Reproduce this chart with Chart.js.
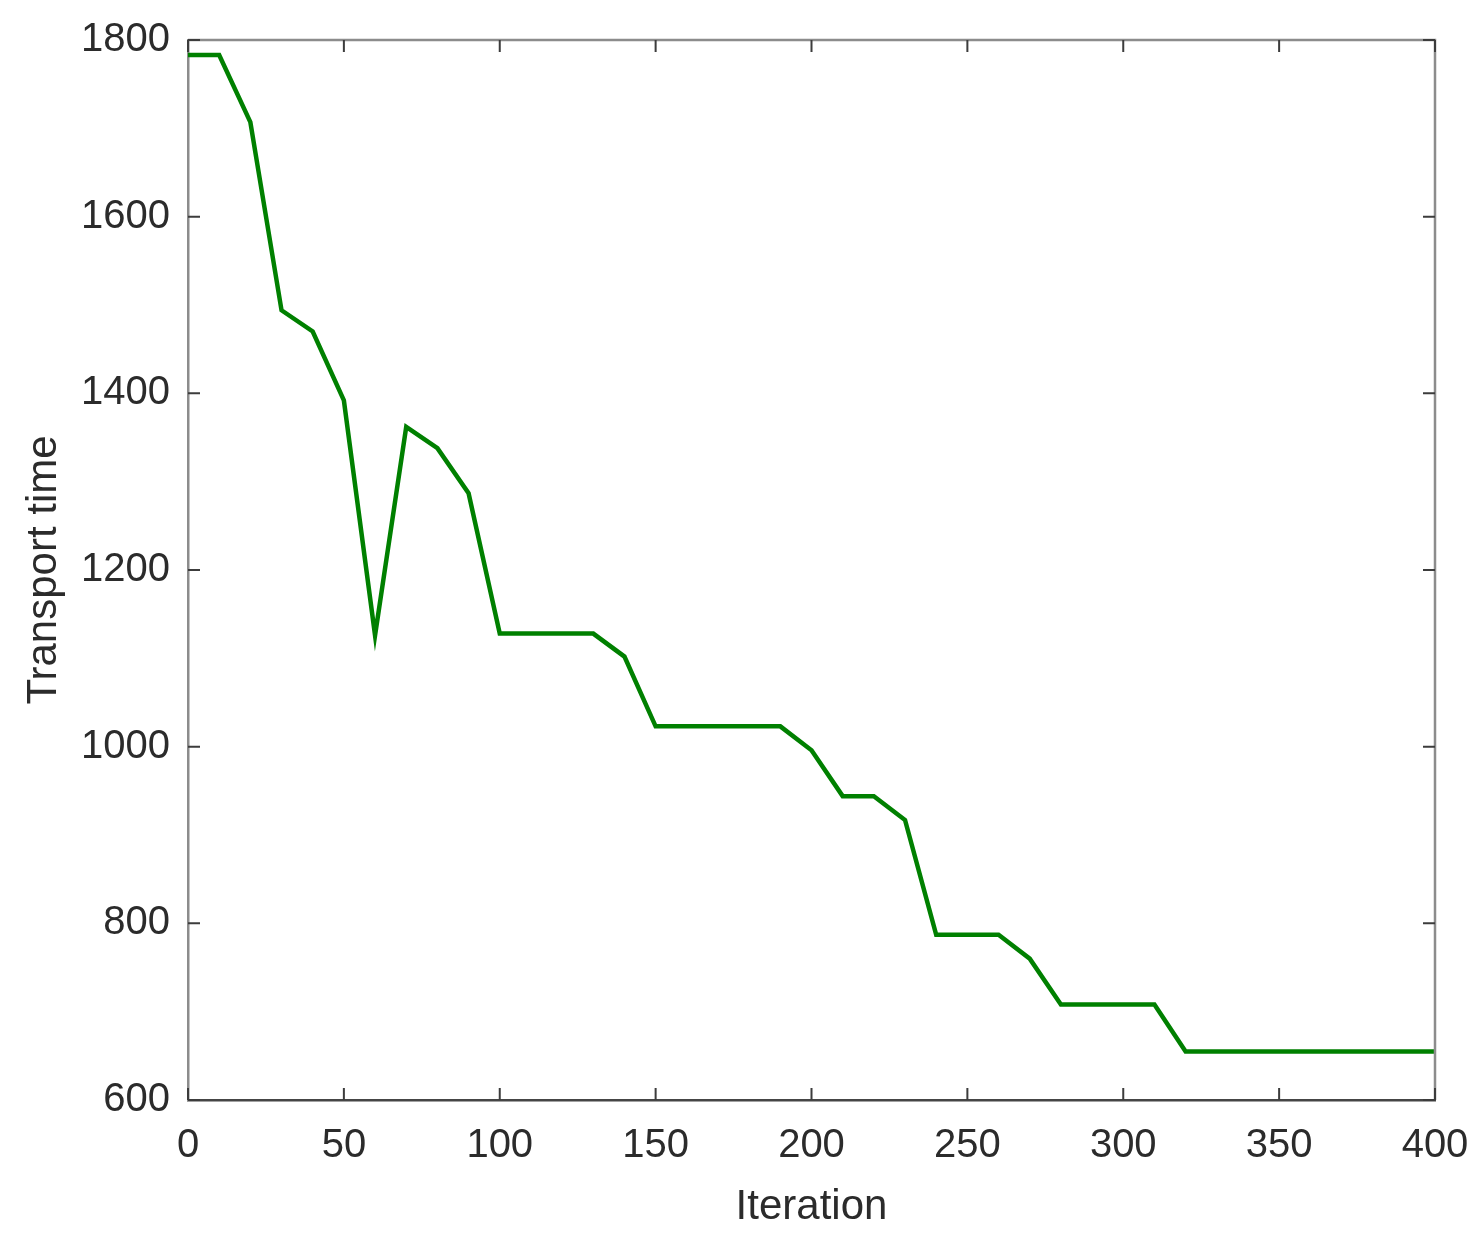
<!DOCTYPE html>
<html>
<head>
<meta charset="utf-8">
<title>Transport time vs Iteration</title>
<script src="https://cdn.jsdelivr.net/npm/chart.js@4.4.1/dist/chart.umd.min.js"></script>
<style>
    html, body { margin: 0; padding: 0; background: #fff; }
    #wrap { width: 1480px; height: 1243px; }
</style>
</head>
<body>
<div id="wrap"><canvas id="convChart" width="1480" height="1243"></canvas></div>
<script>
// ============================================
// CONVERGENCE CURVE DATA
// ============================================
const iterations = [0, 10, 20, 30, 40, 50, 60, 70, 80, 90,
    100, 110, 120, 130, 140, 150, 160, 170, 180, 190,
    200, 210, 220, 230, 240, 250, 260, 270, 280, 290,
    300, 310, 320, 330, 340, 350, 360, 370, 380, 390, 400];
const transportTime = [1783, 1783, 1707, 1494, 1470, 1392, 1126, 1362, 1338, 1287,
    1128, 1128, 1128, 1128, 1102, 1023, 1023, 1023, 1023, 1023,
    996, 944, 944, 917, 787, 787, 787, 760, 708, 708,
    708, 708, 655, 655, 655, 655, 655, 655, 655, 655, 655];
const xTicks = [0, 50, 100, 150, 200, 250, 300, 350, 400];
const yTicks = [600, 800, 1000, 1200, 1400, 1600, 1800];

const FONT = "'Liberation Sans', Arial, sans-serif";
const TEXT_COLOR = '#2b2b2b';

// MATLAB-like box with inward ticks on all four sides
const boxPlugin = {
    id: 'matlabBox',
    afterDraw(chart) {
        const { ctx, chartArea: a, scales } = chart;
        const len = 12;
        ctx.save();
        // top and right frame lines
        ctx.strokeStyle = '#8c8c8c';
        ctx.lineWidth = 2.5;
        ctx.beginPath();
        ctx.moveTo(a.left, a.top);
        ctx.lineTo(a.right, a.top);
        ctx.lineTo(a.right, a.bottom);
        ctx.stroke();

        ctx.strokeStyle = '#3c3c3c';
        ctx.lineWidth = 2;
        ctx.beginPath();
        xTicks.forEach(v => {
            const px = scales.x.getPixelForValue(v);
            ctx.moveTo(px, a.bottom);
            ctx.lineTo(px, a.bottom - len);
            ctx.moveTo(px, a.top);
            ctx.lineTo(px, a.top + len);
        });
        yTicks.forEach(v => {
            const py = scales.y.getPixelForValue(v);
            ctx.moveTo(a.left, py);
            ctx.lineTo(a.left + len, py);
            ctx.moveTo(a.right, py);
            ctx.lineTo(a.right - len, py);
        });
        ctx.stroke();
        ctx.restore();
    }
};

const ctx = document.getElementById('convChart').getContext('2d');
const chart = new Chart(ctx, {
    type: 'line',
    data: {
        datasets: [{
            label: 'Transport time',
            data: iterations.map((it, i) => ({ x: it, y: transportTime[i] })),
            borderColor: '#008000',
            borderWidth: 4.5,
            pointRadius: 0,
            tension: 0,
            fill: false
        }]
    },
    options: {
        responsive: false,
        animation: false,
        layout: { padding: { top: 40, right: 45, left: 0, bottom: 0 } },
        plugins: {
            legend: { display: false },
            tooltip: { enabled: false }
        },
        scales: {
            x: {
                type: 'linear',
                min: 0,
                max: 400,
                afterBuildTicks: (scale) => { scale.ticks = xTicks.map(v => ({ value: v })); },
                afterFit: (scale) => {
                    scale.height = 143;
                    scale.paddingLeft = 0;
                    scale.paddingRight = 0;
                },
                grid: { display: false, drawTicks: false },
                border: { display: true, color: '#454545', width: 2.5 },
                ticks: {
                    color: TEXT_COLOR,
                    font: { family: FONT, size: 40 },
                    padding: 22,
                    maxRotation: 0,
                    autoSkip: false,
                    callback: (v) => String(v)
                },
                title: {
                    display: true,
                    text: 'Iteration',
                    color: TEXT_COLOR,
                    font: { family: FONT, size: 42 },
                    padding: { bottom: 10, top: 0 }
                }
            },
            y: {
                type: 'linear',
                min: 600,
                max: 1800,
                afterBuildTicks: (scale) => { scale.ticks = yTicks.map(v => ({ value: v })); },
                afterFit: (scale) => {
                    scale.width = 188;
                    scale.paddingTop = 0;
                    scale.paddingBottom = 0;
                },
                grid: { display: false, drawTicks: false },
                border: { display: true, color: '#8c8c8c', width: 2.5 },
                ticks: {
                    color: TEXT_COLOR,
                    font: { family: FONT, size: 40 },
                    padding: 18,
                    autoSkip: false,
                    callback: (v) => String(v)
                },
                title: {
                    display: true,
                    text: 'Transport time',
                    color: TEXT_COLOR,
                    font: { family: FONT, size: 42 },
                    padding: { top: 19, bottom: 0 }
                }
            }
        }
    },
    plugins: [boxPlugin]
});
</script>
</body>
</html>
